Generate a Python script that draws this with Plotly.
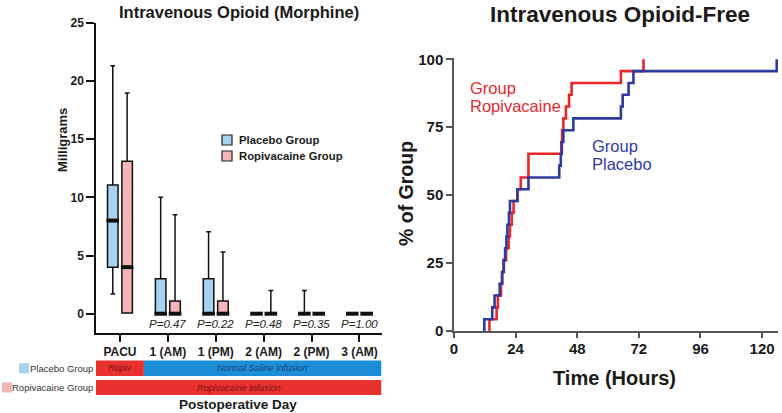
import plotly.graph_objects as go

W, H = 782, 413
FONT = "Liberation Sans"

# ---------------- Left panel data (box plots) ----------------
categories = ["PACU", "1 (AM)", "1 (PM)", "2 (AM)", "2 (PM)", "3 (AM)"]
placebo_lower = [1.7, 0, 0, 0, 0, 0]
placebo_q1 = [4.0, 0, 0, 0, 0, 0]
placebo_median = [8.0, 0, 0, 0, 0, 0]
placebo_q3 = [11.05, 3.0, 3.0, 0, 0, 0]
placebo_upper = [21.3, 10.0, 7.05, 0, 2.0, 0]

ropi_lower = [0.05, 0, 0, 0, 0, 0]
ropi_q1 = [0.05, 0, 0, 0, 0, 0]
ropi_median = [4.0, 0, 0, 0, 0, 0]
ropi_q3 = [13.1, 1.1, 1.1, 0, 0, 0]
ropi_upper = [18.95, 8.5, 5.3, 2.0, 0, 0]

p_values = ["", "P=0.47", "P=0.22", "P=0.48", "P=0.35", "P=1.00"]

# infusion phases: (label, start category boundary, end category boundary)
placebo_phases = [("Ropiv", -0.5, 0.5, "ropi"), ("Normal Saline Infusion", 0.5, 5.5, "saline")]
ropi_phases = [("Ropivacaine Infusion", -0.5, 5.5, "ropi")]

# ---------------- Right panel data (step curves) ----------------
ropi_times = [13.8, 16.6, 17.1, 18.3, 18.8, 19.3, 20.3, 21.3, 21.8, 22.5, 23.2, 24.7,
              26.0, 29.0, 41.8, 42.1, 42.6, 43.6, 44.8, 45.8, 65.0, 73.8]
ropi_count = [1, 2, 3, 4, 5, 6, 7, 8, 9, 10, 11, 12, 13, 15, 16, 17, 18, 19, 20, 21, 22, 23]
placebo_times = [11.8, 14.9, 15.8, 17.8, 18.7, 19.4, 19.9, 20.4, 20.8, 21.4, 21.8, 24.7,
                 29.0, 41.0, 41.6, 42.0, 42.6, 46.5, 65.0, 65.7, 68.0, 69.9, 125.7]
placebo_count = [1, 2, 3, 4, 5, 6, 7, 8, 9, 10, 11, 12, 13, 14, 15, 16, 17, 18, 19, 20, 21, 22, 23]
n_patients = 23
x_ticks = [0, 24, 48, 72, 96, 120]
y_ticks = [0, 25, 50, 75, 100]

# ---------------- Styles ----------------
C_PLAC_FILL = "#a7d2f0"
C_ROPI_FILL = "#f5b6b9"
C_RED_BAR = "#e8302e"
C_BLUE_BAR = "#1c8ed7"
C_RED_LINE = "#e8272c"
C_BLUE_LINE = "#2f3a9f"
phase_colors = {"ropi": (C_RED_BAR, "#7a1414"), "saline": (C_BLUE_BAR, "#1d4477")}

def px(x):
    return x / W

def py(y):
    return 1 - y / H

OFF = 0.15
BOXW = 0.22

fig = go.Figure()

xp = [i - OFF for i in range(len(categories))]
xr = [i + OFF for i in range(len(categories))]

fig.add_trace(go.Box(x=xp, q1=placebo_q1, median=placebo_median, q3=placebo_q3,
                     lowerfence=placebo_lower, upperfence=placebo_upper,
                     width=BOXW, whiskerwidth=0.45, fillcolor=C_PLAC_FILL,
                     line=dict(color="#111111", width=1.5), boxpoints=False,
                     name="Placebo Group", showlegend=False, xaxis="x", yaxis="y",
                     hoverinfo="skip"))
fig.add_trace(go.Box(x=xr, q1=ropi_q1, median=ropi_median, q3=ropi_q3,
                     lowerfence=ropi_lower, upperfence=ropi_upper,
                     width=BOXW, whiskerwidth=0.45, fillcolor=C_ROPI_FILL,
                     line=dict(color="#111111", width=1.5), boxpoints=False,
                     name="Ropivacaine Group", showlegend=False, xaxis="x", yaxis="y",
                     hoverinfo="skip"))
# thick medians
for xs, med in ((xp, placebo_median), (xr, ropi_median)):
    fig.add_trace(go.Scatter(x=xs, y=med, mode="markers", cliponaxis=False,
                             marker=dict(symbol="line-ew", size=9,
                                         line=dict(color="#111111", width=4)),
                             showlegend=False, hoverinfo="skip", xaxis="x", yaxis="y"))

# step curves
def step_xy(times, counts):
    xs = [times[0]] + list(times)
    ys = [0] + [c / n_patients * 100 for c in counts]
    return xs, ys

rx, ry = step_xy(ropi_times, ropi_count)
bx, by = step_xy(placebo_times, placebo_count)
fig.add_trace(go.Scatter(x=rx, y=ry, mode="lines", line=dict(color=C_RED_LINE, width=2.6, shape="hv"),
                         showlegend=False, hoverinfo="skip", xaxis="x2", yaxis="y2"))
fig.add_trace(go.Scatter(x=bx, y=by, mode="lines", line=dict(color=C_BLUE_LINE, width=2.6, shape="hv"),
                         showlegend=False, hoverinfo="skip", xaxis="x2", yaxis="y2"))

# ---------------- Layout ----------------
left_y_bottom = 333.0
left_y_top = 22.7
ppu = (313.7 - 22.7) / 25.0
left_ymin = -(left_y_bottom - 313.7) / ppu

right_ppu = (331 - 59.3) / 100.0
right_top = 100.6

tickfont_l = dict(family=FONT, size=12, color="#1a1a1a")
tickfont_r = dict(family=FONT, size=15, color="#1a1a1a")

common = dict(showgrid=False, zeroline=False, fixedrange=True, automargin=False,
              ticks="outside", tickwidth=1.5, showline=True, linewidth=1.5, tickmode="array")

fig.update_layout(
    width=W, height=H, margin=dict(l=0, r=0, t=0, b=0, autoexpand=False),
    paper_bgcolor="white", plot_bgcolor="white",
    showlegend=False,
    xaxis=dict(domain=[px(96), px(381.5)], range=[-0.5, 5.46],
               tickvals=list(range(len(categories))),
               ticktext=["<b>%s</b>" % c for c in categories],
               tickfont=tickfont_l, ticklen=7, tickcolor="#111111", linecolor="#111111",
               anchor="y", **common),
    yaxis=dict(domain=[py(left_y_bottom), py(left_y_top)], range=[left_ymin, 25],
               tickvals=[0, 5, 10, 15, 20, 25],
               ticktext=["<b>%d</b>" % v for v in [0, 5, 10, 15, 20, 25]],
               tickfont=tickfont_l, ticklen=8, tickcolor="#111111", linecolor="#111111",
               anchor="x", **common),
    xaxis2=dict(domain=[px(454), px(778)], range=[0, 126.2],
                tickvals=x_ticks, ticktext=["<b>%d</b>" % v for v in x_ticks],
                tickfont=tickfont_r, ticklen=5, tickcolor="#555555", linecolor="#555555",
                ticklabelstandoff=-2, anchor="y2", **common),
    yaxis2=dict(domain=[py(331), py(331 - right_top * right_ppu)], range=[0, right_top],
                tickvals=y_ticks, ticktext=["<b>%d</b>" % v for v in y_ticks],
                tickfont=tickfont_r, ticklen=6, tickcolor="#555555", linecolor="#555555",
                anchor="x2", **common),
)

ann = []
shapes = []

def text(x, y, s, size, color="#1a1a1a", bold=False, italic=False, xanchor="center",
         textangle=0, xref="paper", yref="paper"):
    if bold:
        s = "<b>%s</b>" % s
    if italic:
        s = "<i>%s</i>" % s
    ann.append(dict(x=x, y=y, xref=xref, yref=yref, text=s, showarrow=False,
                    xanchor=xanchor, yanchor="middle", textangle=textangle,
                    font=dict(family=FONT, size=size, color=color)))

# titles
text(px(239), py(12), "Intravenous Opioid (Morphine)", 16.5, bold=True)
text(px(620), py(14), "Intravenous Opioid-Free", 22.5, bold=True)
text(px(62), py(140), "Milligrams", 13, bold=True, textangle=-90)
text(px(406), py(194), "% of Group", 19.5, bold=True, textangle=-90)
text(px(614), py(378), "Time (Hours)", 20, bold=True)
text(px(238), py(404), "Postoperative Day", 13.5, bold=True)

# p-values
for i, p in enumerate(p_values):
    if p:
        text(i, -0.9, p, 11.5, color="#222222", italic=True, xref="x", yref="y")

# legend (manual)
for label, fill, yc in (("Placebo Group", C_PLAC_FILL, 140), ("Ropivacaine Group", C_ROPI_FILL, 156)):
    shapes.append(dict(type="rect", xref="paper", yref="paper",
                       x0=px(222), x1=px(232), y0=py(yc + 5), y1=py(yc - 5),
                       fillcolor=fill, line=dict(color="#222222", width=1.2)))
    text(px(237), py(yc), label, 11.3, bold=True, xanchor="left")

# curve labels
text(px(468), py(88), "Group", 16.5, color=C_RED_LINE, xanchor="left")
text(px(468), py(106), "Ropivacaine", 16.5, color=C_RED_LINE, xanchor="left")
text(px(590), py(146), "Group", 16.5, color=C_BLUE_LINE, xanchor="left")
text(px(590), py(164), "Placebo", 16.5, color=C_BLUE_LINE, xanchor="left")

# infusion bars
for phases, (yt, yb), label, fill, (sx0, sx1) in (
        (placebo_phases, (360.5, 376), "Placebo Group", C_PLAC_FILL, (19, 29)),
        (ropi_phases, (380, 395), "Ropivacaine Group", C_ROPI_FILL, (2, 12))):
    for name, x0, x1, kind in phases:
        fc, tc = phase_colors[kind]
        shapes.append(dict(type="rect", xref="x", yref="paper", x0=x0, x1=min(x1, 5.46),
                           y0=py(yb), y1=py(yt), fillcolor=fc, line=dict(width=0), layer="below"))
        text((x0 + min(x1, 5.46)) / 2, py((yt + yb) / 2), name, 9, color=tc, italic=True, xref="x")
    shapes.append(dict(type="rect", xref="paper", yref="paper", x0=px(sx0), x1=px(sx1),
                       y0=py((yt + yb) / 2 + 5), y1=py((yt + yb) / 2 - 5),
                       fillcolor=fill, line=dict(width=0)))
    text(px(95), py((yt + yb) / 2), label, 9.5, color="#333333", xanchor="right")

fig.update_layout(annotations=ann, shapes=shapes)
fig.write_html("out.html", config={"displayModeBar": False},
               post_script="document.body.style.margin='0';document.body.style.overflow='hidden';")
